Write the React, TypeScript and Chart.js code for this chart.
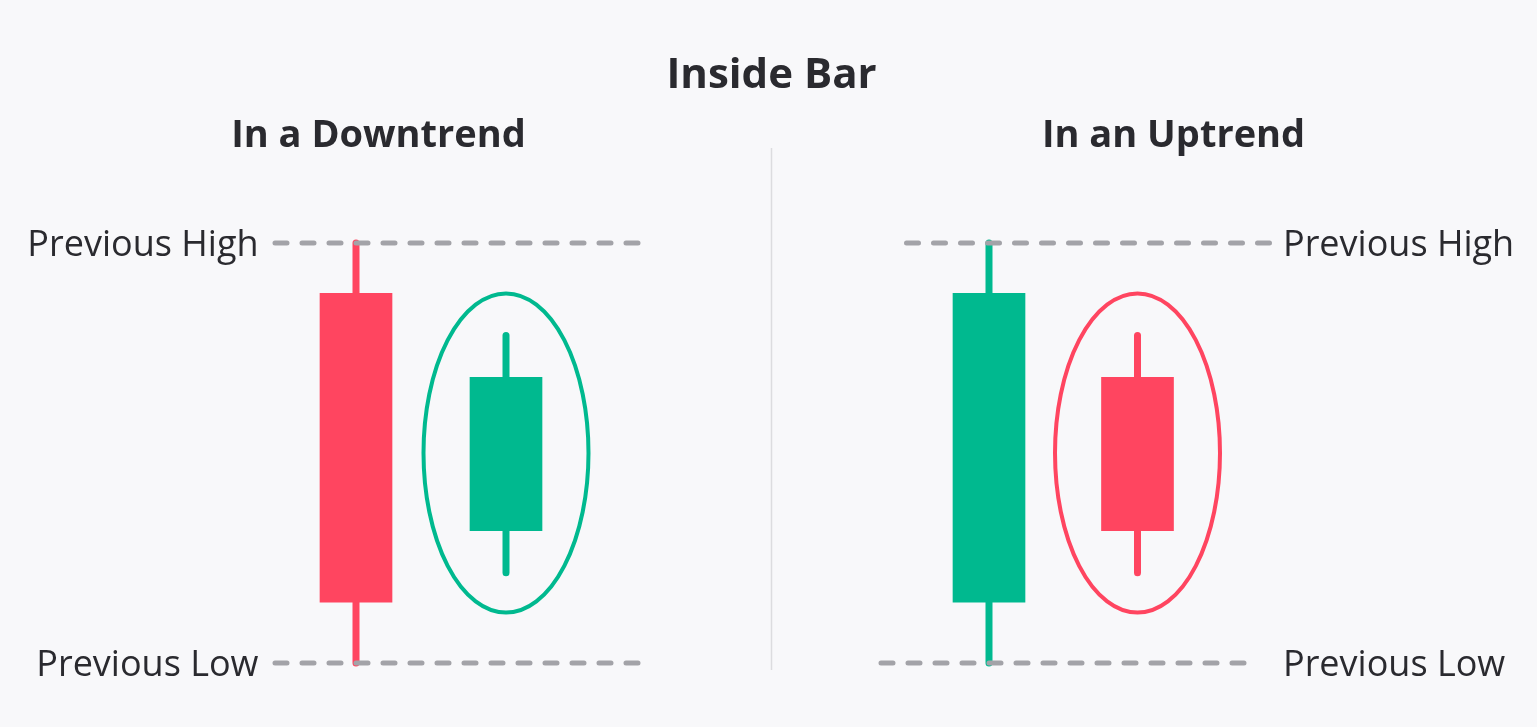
import React, { useEffect, useRef } from "react";
import { Chart, registerables, ChartConfiguration, Plugin } from "chart.js";

Chart.register(...registerables);

const chartTitle = "Inside Bar";
const panelTitles = ["In a Downtrend", "In an Uptrend"];
const highLabel = "Previous High";
const lowLabel = "Previous Low";

// session position of each candle on the x axis
const prevCandleX = [1, 5.22];
const insideCandleX = [2, 6.21];

// the previous (mother) candle of each panel
const prevOpen = [88, 14.5];
const prevClose = [14.5, 88];
const prevHigh = [100, 100];
const prevLow = [0, 0];

// the inside candle of each panel
const insideOpen = [31.5, 68];
const insideClose = [68, 31.5];
const insideHigh = [78, 78];
const insideLow = [21.5, 21.5];

// dashed reference levels (from / to on the x axis)
const highLineFrom = [0.46, 4.67];
const highLineTo = [2.88, 7.09];
const lowLineFrom = [0.46, 4.5];
const lowLineTo = [2.88, 6.92];

// where the texts sit on the x axis
const levelLabelX = [0.35, 7.18];
const panelTitleX = [1.15, 6.45];
const dividerX = 3.77;

// ellipse round the inside candle: centre level and half sizes
const ringMid = [50, 50];
const ringHalfX = [0.55, 0.55];
const ringHalfY = [38, 38];

const BG = "#F8F8FA";
const RED = "#FF4560";
const GREEN = "#00B98F";
const DASH = "#A3A3A8";
const INK = "#2A2A2F";
const FONT = "'Open Sans', 'Noto Sans', sans-serif";

const colorOf = (open: number, close: number) => (close >= open ? GREEN : RED);

const decor: Plugin<"bar"> = {
  id: "decor",
  beforeDraw(chart) {
    const { ctx, width, height } = chart;
    ctx.save();
    ctx.fillStyle = BG;
    ctx.fillRect(0, 0, width, height);
    ctx.restore();
  },
  beforeDatasetsDraw(chart) {
    const { ctx } = chart;
    const x = chart.scales.x;
    ctx.save();
    ctx.strokeStyle = "#DCDCDF";
    ctx.lineWidth = 1.5;
    const px = x.getPixelForValue(dividerX);
    ctx.beginPath();
    ctx.moveTo(px, 148);
    ctx.lineTo(px, 670);
    ctx.stroke();
    ctx.restore();
  },
  afterDatasetsDraw(chart) {
    const { ctx } = chart;
    const x = chart.scales.x;
    const y = chart.scales.y;
    ctx.save();
    ctx.lineWidth = 4;
    insideCandleX.forEach((cx, i) => {
      const px = x.getPixelForValue(cx);
      const py = y.getPixelForValue(ringMid[i]);
      const rx = x.getPixelForValue(cx + ringHalfX[i]) - px;
      const ry = py - y.getPixelForValue(ringMid[i] + ringHalfY[i]);
      ctx.strokeStyle = colorOf(insideOpen[i], insideClose[i]);
      ctx.beginPath();
      ctx.ellipse(px, py, rx, ry, 0, 0, Math.PI * 2);
      ctx.stroke();
    });
    ctx.restore();
  },
  afterDraw(chart) {
    const { ctx } = chart;
    const x = chart.scales.x;
    const y = chart.scales.y;
    ctx.save();
    ctx.fillStyle = INK;
    ctx.textBaseline = "alphabetic";

    ctx.textAlign = "center";
    ctx.font = `bold 42px ${FONT}`;
    ctx.fillText(chartTitle, x.getPixelForValue(dividerX), 88);

    ctx.font = `bold 38px ${FONT}`;
    panelTitles.forEach((t, i) => {
      ctx.fillText(t, x.getPixelForValue(panelTitleX[i]), 147);
    });

    ctx.font = `36px ${FONT}`;
    levelLabelX.forEach((lx, i) => {
      ctx.textAlign = i === 0 ? "right" : "left";
      const px = x.getPixelForValue(lx);
      ctx.fillText(highLabel, px, y.getPixelForValue(prevHigh[i]) + 13);
      ctx.fillText(lowLabel, px, y.getPixelForValue(prevLow[i]) + 13);
    });
    ctx.restore();
  },
};

export default function App() {
  const canvasRef = useRef<HTMLCanvasElement | null>(null);

  useEffect(() => {
    document.body.style.margin = "0";
    document.body.style.background = BG;
    if (!canvasRef.current) return;

    const opens = [...prevOpen, ...insideOpen];
    const closes = [...prevClose, ...insideClose];
    const xs = [...prevCandleX, ...insideCandleX];
    const highs = [...prevHigh, ...insideHigh];
    const lows = [...prevLow, ...insideLow];

    const wicks = xs.map((cx, i) => ({
      type: "line" as const,
      data: [
        { x: cx, y: lows[i] },
        { x: cx, y: highs[i] },
      ],
      borderColor: colorOf(opens[i], closes[i]),
      borderWidth: 7,
      borderCapStyle: "round" as const,
      pointRadius: 0,
      order: 3,
    }));

    const levels = [0, 1].flatMap((i) => [
      { from: highLineFrom[i], to: highLineTo[i], v: prevHigh[i] },
      { from: lowLineFrom[i], to: lowLineTo[i], v: prevLow[i] },
    ]);
    const dashes = levels.map((l) => ({
      type: "line" as const,
      data: [
        { x: l.from, y: l.v },
        { x: l.to, y: l.v },
      ],
      borderColor: DASH,
      borderWidth: 5,
      borderDash: [12, 15],
      borderCapStyle: "round" as const,
      pointRadius: 0,
      order: 1,
    }));

    const bodies = {
      type: "bar" as const,
      data: xs.map((cx, i) => ({ x: cx, y: [opens[i], closes[i]] })),
      backgroundColor: xs.map((_, i) => colorOf(opens[i], closes[i])),
      barThickness: 72,
      grouped: false,
      order: 2,
    };

    const xMin = 1 - 356 / 150;

    const config: ChartConfiguration<"bar"> = {
      type: "bar",
      data: { datasets: [...wicks, bodies, ...dashes] as any },
      options: {
        animation: false,
        responsive: true,
        maintainAspectRatio: false,
        events: [],
        layout: { padding: 0 },
        plugins: {
          legend: { display: false },
          tooltip: { enabled: false },
        },
        scales: {
          x: {
            type: "linear",
            display: false,
            offset: false,
            min: xMin,
            max: xMin + 1537 / 150,
          },
          y: {
            type: "linear",
            display: false,
            min: -64 / 4.2,
            max: 100 + 243 / 4.2,
          },
        },
      },
      plugins: [decor],
    };

    const chart = new Chart(canvasRef.current, config);
    return () => chart.destroy();
  }, []);

  return (
    <div style={{ position: "relative", width: 1537, height: 727 }}>
      <canvas ref={canvasRef} />
    </div>
  );
}
